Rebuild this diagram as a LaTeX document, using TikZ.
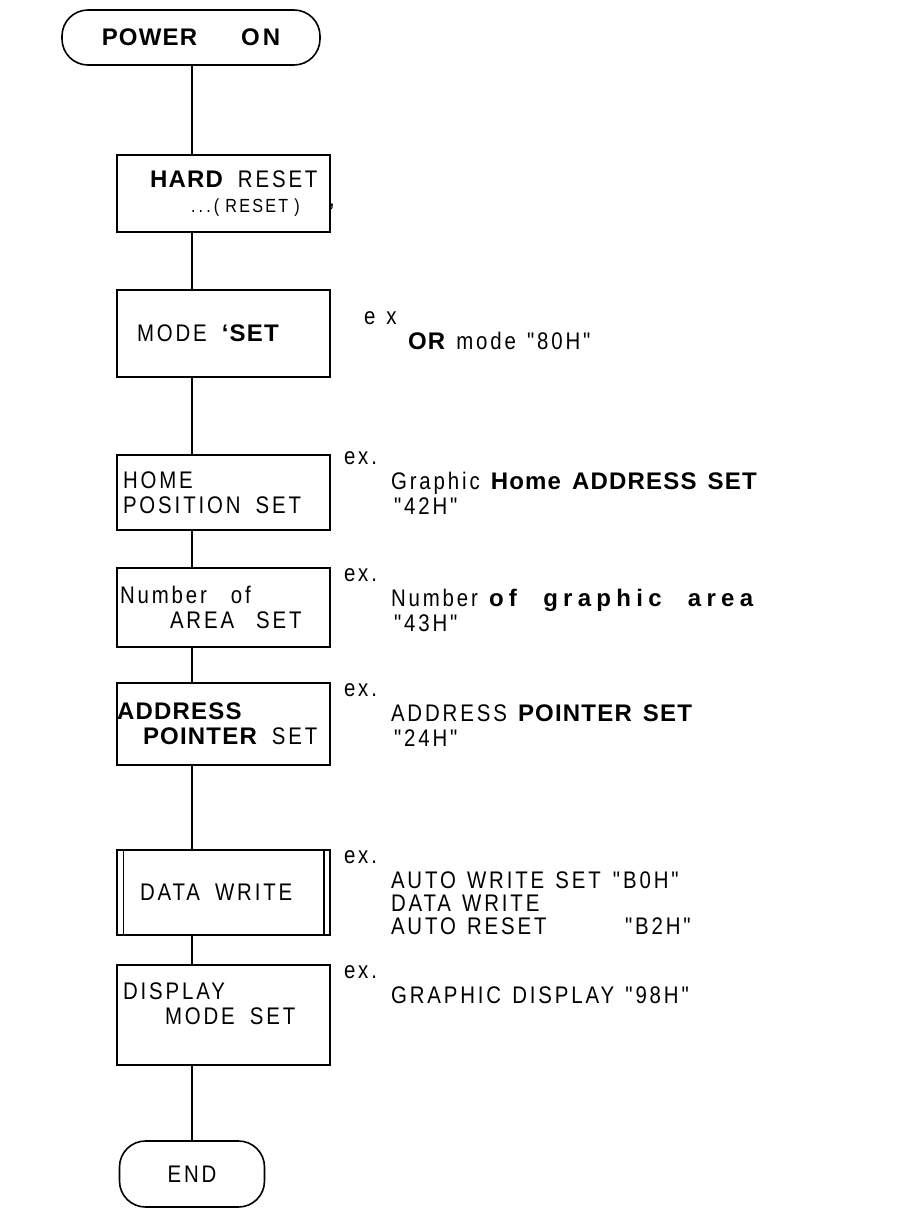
\documentclass[tikz,border=0pt]{standalone}
\usepackage{fontspec}
\setmainfont{Liberation Sans}
\newfontfamily\plotfont[LetterSpace=12, FakeStretch=0.85, WordSpace=1.3]{Liberation Sans}
\newfontfamily\heavyfont[LetterSpace=5, WordSpace=1.4]{Liberation Sans Bold}
\newfontfamily\widefont[LetterSpace=22, WordSpace=2.2]{Liberation Sans Bold}
\usetikzlibrary{positioning}
\newcommand{\chartsize}{\fontsize{24}{25}\selectfont}
\newcommand{\hv}[1]{{\heavyfont #1}}
\newcommand{\wgap}{\hspace{15pt}}

\begin{document}
\begin{tikzpicture}[x=1pt, y=1pt,
  stepbox/.style={
    draw, line width=1.6pt, minimum width=213pt, minimum height=80pt,
    text width=201pt, inner xsep=6pt, align=left, font=\plotfont\chartsize
  },
  term/.style={
    draw, line width=1.6pt, rounded corners=26pt, font=\plotfont\chartsize
  },
  note/.style={align=left, inner sep=0pt, font=\plotfont\chartsize},
  flow/.style={line width=1.4pt}
]
  \useasboundingbox (0,0) rectangle (922,-1210);
  % Main column
  \node[term, minimum width=258pt, minimum height=55pt] (pwr) at (191,-37.5) {\hv{POWER\hspace{44pt}O\hspace{3pt}N}};
  \node[stepbox, minimum height=77pt] (hreset) at (223.5,-193.5)
    {\hspace*{27pt}\hv{HARD}\wgap RESET\\\hspace*{68pt}{\fontsize{19}{19}\selectfont .\,.\,.\,(\hspace{6pt}RESET\hspace{6pt})}};
  \node[stepbox, minimum height=87pt] (modeset) at (223.5,-333.5) {\hspace*{14pt}MODE\wgap\hv{‘SET}};
  \node[stepbox, minimum height=75pt] (homeset) at (223.5,-492.5) {HOME\\POSITION\wgap SET};
  \node[stepbox, minimum height=79pt] (areaset) at (223.5,-607.5) {\hspace*{-3pt}Number\hspace{24pt}of\\\hspace*{47pt}AREA\hspace{22pt}SET};
  \node[stepbox, minimum height=82pt] (ptrset) at (223.5,-724) {\hspace*{-6pt}\hv{ADDRESS}\\\hspace*{20pt}\hv{POINTER}\wgap SET};
  \node[stepbox, minimum height=85pt] (dwrite) at (223.5,-892.5) {\hspace*{17pt}DATA\wgap WRITE};
  \node[stepbox, minimum height=100pt] (dispset) at (223.5,-1015) {DISPLAY\\\hspace*{42pt}MODE\wgap SET\\[-2pt]\mbox{}};
  \node[term, minimum width=145pt, minimum height=66pt] (stop) at (192,-1174) {END};
  \node[font=\chartsize, anchor=west] (hcomma) at ([xshift=-6pt,yshift=26pt]hreset.south east) {,};
  \draw[flow] ([xshift=7pt]dwrite.north west) -- ([xshift=7pt]dwrite.south west)
              ([xshift=-7pt]dwrite.north east) -- ([xshift=-7pt]dwrite.south east);
  \foreach \a/\b in {pwr/hreset, hreset/modeset, modeset/homeset, homeset/areaset,
                     areaset/ptrset, ptrset/dwrite, dwrite/dispset, dispset/stop}
    \draw[flow] (\a.south -| stop.north) -- (\b.north -| stop.north);
  % Examples
  \node[note, right=33pt of modeset.north east, anchor=north west, yshift=-22pt] (modeex)
    {e x\\\hspace*{44pt}\hv{OR} mode "80H"};
  \node[note, right=13pt of homeset.north east, anchor=north west, yshift=3pt] (homeex)
    {ex.\\\hspace*{47pt}Graphic \hv{Home ADDRESS SET}\\\hspace*{50pt}"42H"};
  \node[note, right=13pt of areaset.north east, anchor=north west, yshift=-1pt] (areaex)
    {ex.\\\hspace*{47pt}Number {\widefont of graphic area}\\\hspace*{50pt}"43H"};
  \node[note, right=13pt of ptrset.north east, anchor=north west, yshift=-1pt] (ptrex)
    {ex.\\\hspace*{47pt}ADDRESS \hv{POINTER SET}\\\hspace*{50pt}"24H"};
  \node[note, right=13pt of dwrite.north east, anchor=north west, yshift=-1pt] (dwex)
    {ex.\\\hspace*{47pt}\makebox[222pt][l]{AUTO WRITE SET}"B0H"\\[-2pt]
     \hspace*{47pt}DATA WRITE\\[-2pt]
     \hspace*{47pt}\makebox[234pt][l]{AUTO RESET}"B2H"};
  \node[note, right=13pt of dispset.north east, anchor=north west, yshift=-1pt] (dispex)
    {ex.\\\hspace*{47pt}GRAPHIC DISPLAY "98H"};
\end{tikzpicture}
\end{document}
